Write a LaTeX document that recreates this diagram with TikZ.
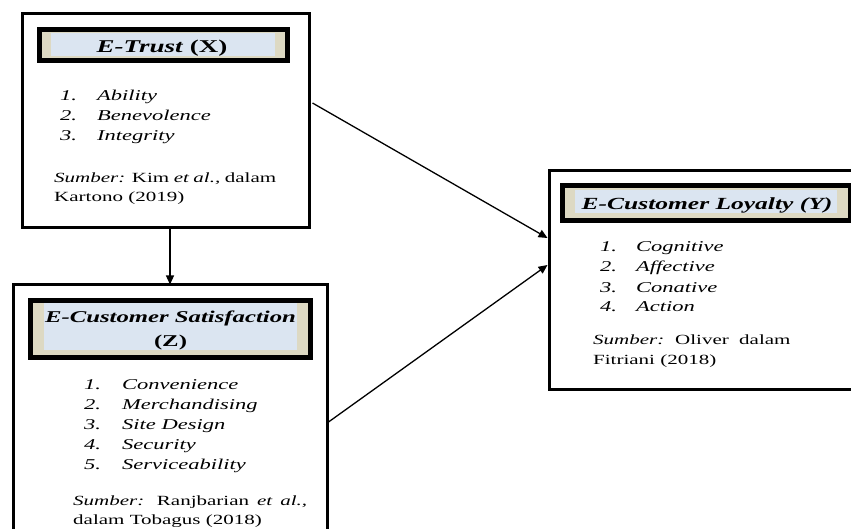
\documentclass[tikz,border=0pt]{standalone}
\usepackage{fontspec}
\setmainfont{Liberation Serif}[FakeStretch=1.5]
\usetikzlibrary{arrows.meta,calc}
\definecolor{beige}{HTML}{DDD9C3}
\definecolor{paleblue}{HTML}{DBE5F1}
\tikzset{
  outerbox/.style={draw=black, line width=3pt, inner sep=0pt, outer sep=0pt, fill=white},
  headbox/.style={draw=black, line width=5pt, fill=beige, inner sep=0pt, outer sep=0pt},
  headfill/.style={fill=paleblue, inner sep=0pt, outer sep=0pt},
  headtxt/.style={anchor=base, inner sep=0pt, font=\fontsize{17}{20}\selectfont\bfseries},
  itemtxt/.style={anchor=base west, inner sep=0pt, font=\fontsize{15}{18}\selectfont\itshape},
  srctxt/.style={anchor=base west, inner sep=0pt, font=\fontsize{14}{17}\selectfont},
  link/.style={line width=1.3pt, -{Triangle[length=9pt,width=8pt]}}
}
\begin{document}
\begin{tikzpicture}[x=1pt,y=-1pt]
\useasboundingbox (0,0) rectangle (851,529);
\clip (0,0) rectangle (851,529);
\fill[white] (0,0) rectangle (851,529);

% Box X
\node[outerbox, minimum width=287pt, minimum height=214pt] (boxX) at (166,120.5) {};
\node[headbox, minimum width=248pt, minimum height=31pt] (hX) at (163.5,45) {};
\node[headfill, minimum width=224pt, minimum height=23pt] (hXf) at (163,44.5) {};
\node[headtxt, font=\fontsize{18}{21}\selectfont\bfseries] (tX) at (162,53) {\textit{E-Trust} (X)};
\node[itemtxt] (x1n) at (60,101) {1.};
\node[itemtxt] (x1t) at (97,101) {Ability};
\node[itemtxt] (x2n) at (60,121) {2.};
\node[itemtxt] (x2t) at (97,121) {Benevolence};
\node[itemtxt] (x3n) at (60,141) {3.};
\node[itemtxt] (x3t) at (97,141) {Integrity};
\node[srctxt] (xs1) at (54,183) {\makebox[222pt][s]{\textit{Sumber:} Kim \textit{et al.,} dalam}};
\node[srctxt] (xs2) at (54,202) {Kartono (2019)};

% Box Z
\node[outerbox, minimum width=314pt, minimum height=275.5pt] (boxZ) at (170,422.25) {};
\node[headbox, minimum width=280pt, minimum height=57pt] (hZ) at (170.5,329) {};
\node[headfill, minimum width=253pt, minimum height=47pt] (hZf) at (170.5,326.5) {};
\node[headtxt, font=\fontsize{16.5}{20}\selectfont\bfseries] (tZ1) at (170.5,323) {\textit{E-Customer Satisfaction}};
\node[headtxt, font=\fontsize{16.5}{20}\selectfont\bfseries] (tZ2) at (170.5,346) {(Z)};
\node[itemtxt] (z1n) at (84,389) {1.};
\node[itemtxt] (z1t) at (122,389) {Convenience};
\node[itemtxt] (z2n) at (84,409) {2.};
\node[itemtxt] (z2t) at (122,409) {Merchandising};
\node[itemtxt] (z3n) at (84,429) {3.};
\node[itemtxt] (z3t) at (122,429) {Site Design};
\node[itemtxt] (z4n) at (84,449) {4.};
\node[itemtxt] (z4t) at (122,449) {Security};
\node[itemtxt] (z5n) at (84,469) {5.};
\node[itemtxt] (z5t) at (122,469) {Serviceability};
\node[srctxt] (zs1) at (73,505) {\makebox[234pt][s]{\textit{Sumber:} Ranjbarian \textit{et al.,}}};
\node[srctxt] (zs2) at (73,524) {dalam Tobagus (2018)};

% Box Y
\node[outerbox, minimum width=331pt, minimum height=219pt] (boxY) at (714.5,280) {};
\node[headbox, minimum width=287.5pt, minimum height=35pt] (hY) at (706.25,203) {};
\node[headfill, minimum width=262pt, minimum height=23pt] (hYf) at (706,201.5) {};
\node[headtxt] (tY) at (707,210) {\textit{E-Customer Loyalty (Y)}};
\node[itemtxt] (y1n) at (600,252) {1.};
\node[itemtxt] (y1t) at (636,252) {Cognitive};
\node[itemtxt] (y2n) at (600,272) {2.};
\node[itemtxt] (y2t) at (636,272) {Affective};
\node[itemtxt] (y3n) at (600,292) {3.};
\node[itemtxt] (y3t) at (636,292) {Conative};
\node[itemtxt] (y4n) at (600,312) {4.};
\node[itemtxt] (y4t) at (636,312) {Action};
\node[srctxt] (ys1a) at (593,344) {\textit{Sumber:}};
\node[srctxt] (ys1b) at (675,344) {Oliver};
\node[srctxt] (ys1c) at (739,344) {dalam};
\node[srctxt] (ys2) at (593,364) {Fitriani (2018)};

% connector end points on box borders
\coordinate (xOut) at ($(boxX.north east)+(3,89.5)$);
\coordinate (zOut) at ($(boxZ.north east)+(1.5,137.5)$);
\coordinate (yIn1) at ($(boxY.north west)+(-1.5,67.5)$);
\coordinate (yIn2) at ($(boxY.north west)+(-1.5,94.5)$);

\draw[link] (boxX.south -| boxZ.north) -- (boxZ.north);
\draw[link] (xOut) -- (yIn1);
\draw[link] (zOut) -- (yIn2);
\end{tikzpicture}
\end{document}
